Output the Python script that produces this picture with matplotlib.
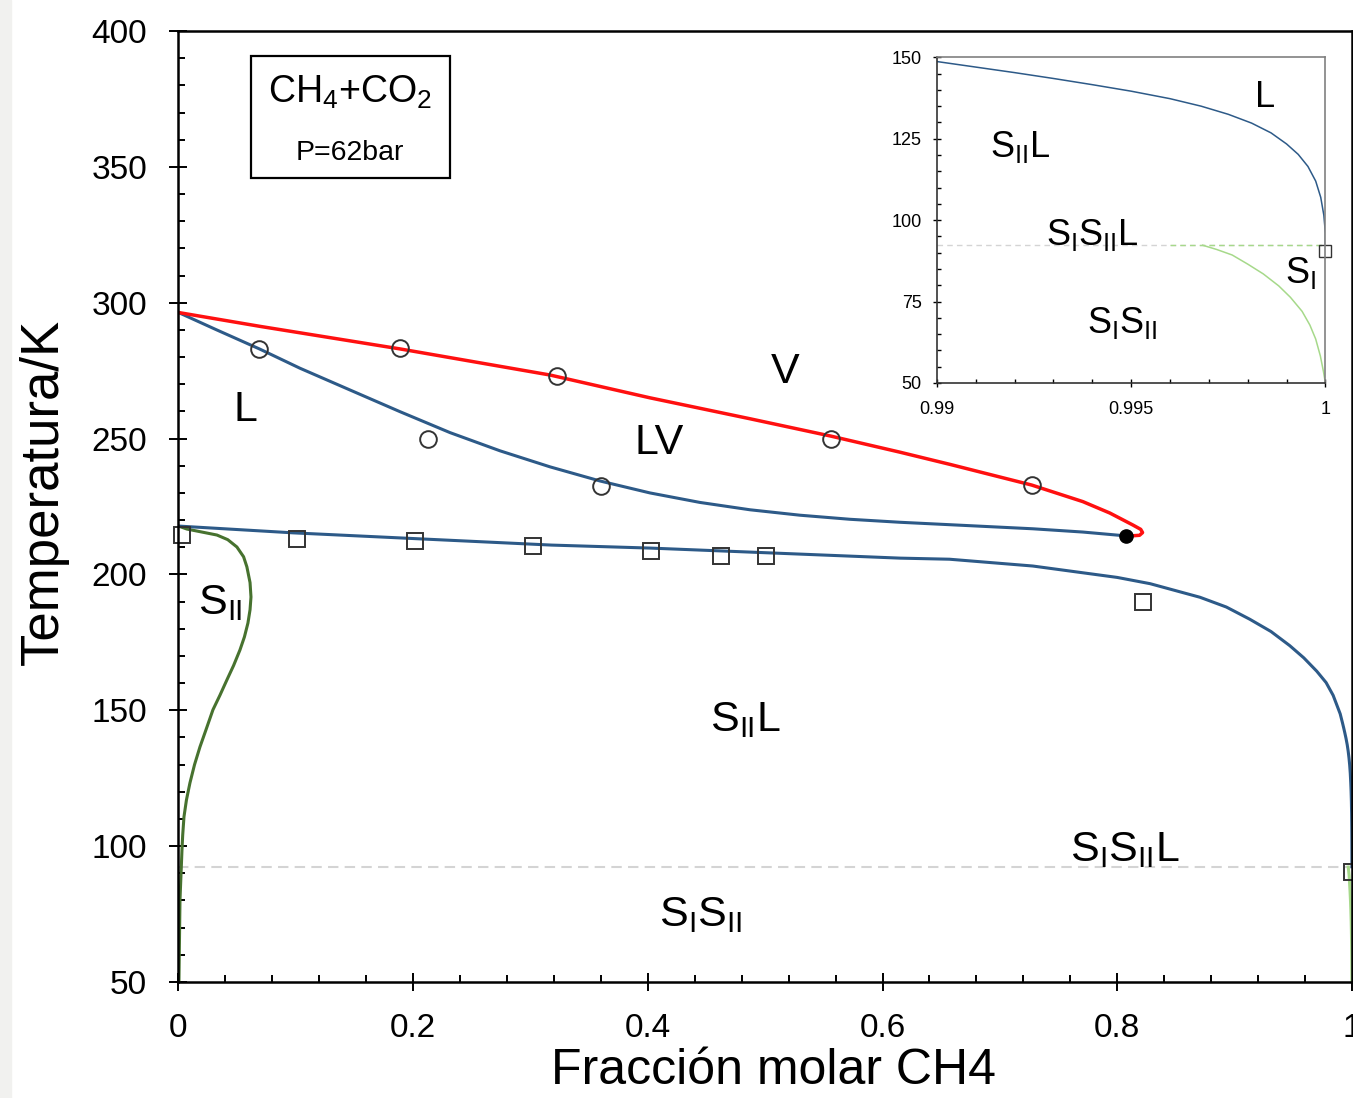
import matplotlib
matplotlib.use('Agg')
import matplotlib.pyplot as plt
from matplotlib.patches import Rectangle
from matplotlib.ticker import MultipleLocator, FuncFormatter

plt.rcParams['font.family'] = ['Liberation Sans', 'DejaVu Sans']
plt.rcParams['mathtext.fontset'] = 'custom'
plt.rcParams['mathtext.rm'] = 'Liberation Sans'
plt.rcParams['mathtext.it'] = 'Liberation Sans:italic'
plt.rcParams['mathtext.default'] = 'regular'

# Curves (x = fraccion molar CH4, T in K)
dew_x = [0.0, 0.0695, 0.1888, 0.3166, 0.4018, 0.487, 0.5561, 0.6148, 0.6575,
         0.7271, 0.7707, 0.7937, 0.8133, 0.8200, 0.8216, 0.8190, 0.8120, 0.8072]
dew_T = [296.4, 291.3, 283.0, 273.4, 265.0, 257.3, 250.9, 245.0, 240.5,
         232.9, 226.8, 222.6, 218.2, 216.6, 215.4, 214.4, 214.2, 214.2]

bub_x = [0.0, 0.0326, 0.0695, 0.1035, 0.1461, 0.1888, 0.2314, 0.274, 0.3166,
         0.3592, 0.4018, 0.4444, 0.487, 0.5296, 0.5722, 0.6148, 0.6575, 0.7282,
         0.7707, 0.8071]
bub_T = [296.4, 290.0, 282.9, 275.9, 267.9, 259.9, 252.2, 245.5, 239.6,
         234.4, 230.0, 226.5, 223.8, 221.8, 220.3, 219.2, 218.3, 216.8,
         215.6, 214.2]

siil_x = [0.0, 0.098, 0.318, 0.402, 0.615, 0.657, 0.728, 0.800, 0.828, 0.8705,
          0.893, 0.913, 0.931, 0.947, 0.959, 0.970, 0.978, 0.984,
          0.9900, 0.9910, 0.9920, 0.9930, 0.9940, 0.9950, 0.9960, 0.9968,
          0.9975, 0.9981, 0.9986, 0.9990, 0.9993, 0.99955, 0.99975, 0.99988,
          0.99996, 1.0, 1.0]
siil_T = [217.8, 215.3, 210.8, 209.7, 206.0, 205.6, 203.1, 198.9, 196.6, 191.6,
          188.0, 183.5, 179.0, 173.8, 169.3, 164.4, 160.2, 155.5,
          148.7, 147.0, 145.3, 143.5, 141.6, 139.6, 137.3, 135.0,
          132.5, 129.8, 126.8, 123.4, 120.2, 116.5, 112.0, 107.0,
          101.5, 96.0, 92.4]

sii_x = [0.0, 0.0072, 0.0328, 0.042, 0.0498, 0.0555, 0.0583, 0.0610, 0.0618,
         0.0610, 0.0592, 0.0562, 0.0524, 0.0470, 0.0413, 0.0353, 0.0294,
         0.0236, 0.0183, 0.0137, 0.0098, 0.0068, 0.0047, 0.0036, 0.003,
         0.0013, 0.0004]
sii_T = [217.8, 216.7, 214.5, 212.8, 210.1, 206.5, 202.8, 197.0, 191.7,
         187.0, 182.1, 177.0, 172.2, 166.5, 161.2, 155.5, 150.2,
         143.0, 136.5, 130.0, 123.3, 117.0, 110.8, 104.0, 98.6,
         80.2, 50.0]

si_x = [0.99684, 0.9972, 0.9976, 0.9980, 0.9984, 0.9988, 0.9991, 0.9994,
        0.9996, 0.99975, 0.99987, 0.99995, 1.0]
si_T = [92.3, 91.0, 89.3, 86.5, 83.5, 79.8, 76.3, 72.0,
        67.8, 63.5, 58.3, 53.5, 50.0]

T_triple = 92.4

# Experimental points
lv_x = [0.0686, 0.1887, 0.3225, 0.2126, 0.360, 0.556, 0.7274]
lv_T = [283.0, 283.3, 273.0, 249.9, 232.6, 249.9, 232.9]

sl_x = [0.003, 0.101, 0.2015, 0.302, 0.4025, 0.462, 0.501, 0.8222, 1.0]
sl_T = [214.5, 213.1, 212.3, 210.5, 208.6, 206.8, 206.8, 189.9, 90.4]

crit_x = [0.8072]
crit_T = [214.2]

BLUE = '#2d5a88'
RED = '#ff1010'
DGREEN = '#47722f'
LGREEN = '#a6d98a'
GRAY = '#d4d4d4'


def fmt(v, pos):
    return '%g' % v


def style_ticks(ax, size, major_len, minor_len, pad, width):
    ax.tick_params(which='major', direction='inout', length=major_len,
                   width=width, labelsize=size, pad=pad)
    ax.tick_params(which='minor', direction='in', length=minor_len,
                   width=width)


def main():
    fig = plt.figure(figsize=(13.53, 10.98), dpi=100)
    fig.patches.append(Rectangle((0, 0), 11 / 1353, 1, transform=fig.transFigure,
                                 color='#f1f1ef', zorder=-10))

    ax = fig.add_axes([0.1319, 0.10565, 0.8673, 0.8661])
    ax.plot([0, 1], [T_triple, T_triple], color=GRAY, lw=1.5, dashes=(5, 3))
    ax.plot(sii_x, sii_T, color=DGREEN, lw=2.2)
    ax.plot(si_x, si_T, color=LGREEN, lw=2.2)
    ax.plot(siil_x, siil_T, color=BLUE, lw=2.2)
    ax.plot(bub_x, bub_T, color=BLUE, lw=2.2)
    ax.plot(dew_x, dew_T, color=RED, lw=2.5)
    ax.plot(lv_x, lv_T, 'o', ms=12, mfc='none', mec='#333333', mew=1.4)
    ax.plot(sl_x, sl_T, 's', ms=11.5, mfc='none', mec='#333333', mew=1.4,
            clip_on=False)
    ax.plot(crit_x, crit_T, 'o', ms=9.5, color='black')

    ax.set_xlim(0, 1)
    ax.set_ylim(50, 400)
    ax.xaxis.set_major_locator(MultipleLocator(0.2))
    ax.xaxis.set_minor_locator(MultipleLocator(0.04))
    ax.yaxis.set_major_locator(MultipleLocator(50))
    ax.yaxis.set_minor_locator(MultipleLocator(10))
    ax.xaxis.set_major_formatter(FuncFormatter(fmt))
    style_ticks(ax, 24, 13, 5, 16, 1.4)
    for sp in ax.spines.values():
        sp.set_linewidth(1.8)
    ax.set_xlabel('Fracción molar CH4', fontsize=36)
    ax.xaxis.set_label_coords(0.507, -0.069)
    ax.set_ylabel('Temperatura/K', fontsize=38)
    ax.yaxis.set_label_coords(-0.093, 0.515)

    lab = dict(fontsize=31, ha='center', va='center')
    ax.text(0.057, 260.5, 'L', **lab)
    ax.text(0.41, 248.4, 'LV', **lab)
    ax.text(0.517, 274.5, 'V', **lab)
    ax.text(0.036, 189.5, r'S$_{II}$', **lab)
    ax.text(0.483, 146.4, r'S$_{II}$L', **lab)
    ax.text(0.806, 98.6, r'S$_{I}$S$_{II}$L', **lab)
    ax.text(0.445, 74.7, r'S$_{I}$S$_{II}$', **lab)

    ax.add_patch(Rectangle((0.0618, 0.8454), 0.1695, 0.1283,
                           transform=ax.transAxes, fill=False,
                           ec='black', lw=1.6))
    ax.text(0.146, 0.936, r'CH$_4$+CO$_2$', transform=ax.transAxes,
            fontsize=27, ha='center', va='center')
    ax.text(0.146, 0.8715, 'P=62bar', transform=ax.transAxes,
            fontsize=20.5, ha='center', va='center')

    # inset zoom close to pure CH4
    ins = fig.add_axes([0.6925, 0.6512, 0.2871, 0.2966])
    ins.plot([0.99, 1], [T_triple, T_triple], color=GRAY, lw=1.0, dashes=(4, 3))
    ins.plot([0.996, 1], [T_triple, T_triple], color=LGREEN, lw=1.0,
             dashes=(4, 3))
    ins.plot(siil_x, siil_T, color=BLUE, lw=1.1)
    ins.plot(si_x, si_T, color=LGREEN, lw=1.1)
    ins.plot(sl_x, sl_T, 's', ms=8, mfc='none', mec='#333333', mew=1.0,
             clip_on=False)
    ins.set_xlim(0.99, 1.0)
    ins.set_ylim(50, 150)
    ins.set_xticks([0.99, 0.995, 1.0])
    ins.set_xticklabels(['0.99', '0.995', '1'])
    ins.xaxis.set_minor_locator(MultipleLocator(0.001))
    ins.yaxis.set_major_locator(MultipleLocator(25))
    ins.yaxis.set_minor_locator(MultipleLocator(5))
    style_ticks(ins, 13, 6, 3, 8, 1.0)
    ins.tick_params(axis='x', which='major', pad=10)
    for name, sp in ins.spines.items():
        sp.set_linewidth(1.2)
        sp.set_color('#333333' if name in ('left', 'bottom') else '#808080')

    ilab = dict(fontsize=26, ha='center', va='center')
    ins.text(0.99845, 137.8, 'L', **ilab)
    ins.text(0.99214, 122.4, r'S$_{II}$L', **ilab)
    ins.text(0.9940, 95.4, r'S$_{I}$S$_{II}$L', **ilab)
    ins.text(0.99936, 83.7, r'S$_{I}$', **ilab)
    ins.text(0.99477, 68.4, r'S$_{I}$S$_{II}$', **ilab)

    fig.savefig('out.png', dpi=100)


if __name__ == '__main__':
    main()
